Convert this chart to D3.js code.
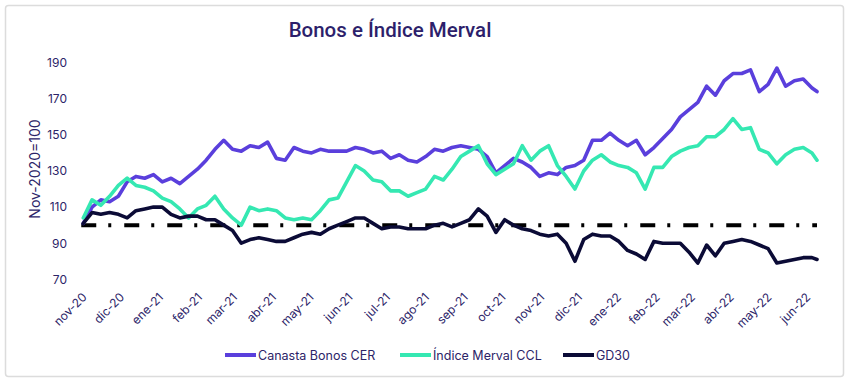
<!DOCTYPE html>
<html>
<head>
<meta charset="utf-8">
<script src="https://cdn.jsdelivr.net/npm/d3@7"></script>
<style>
  html, body { margin: 0; padding: 0; background: #ffffff; }
  svg { display: block; }
</style>
</head>
<body>
<svg id="chart" width="850" height="382"></svg>
<script>
const dates = [
  "2020-11-02","2020-11-09","2020-11-16","2020-11-23","2020-11-30","2020-12-07","2020-12-14","2020-12-21","2020-12-28",
  "2021-01-04","2021-01-11","2021-01-18","2021-01-25","2021-02-01","2021-02-08","2021-02-15","2021-02-22",
  "2021-03-01","2021-03-08","2021-03-15","2021-03-22","2021-03-29","2021-04-05","2021-04-12","2021-04-19","2021-04-26",
  "2021-05-03","2021-05-10","2021-05-17","2021-05-24","2021-05-31","2021-06-07","2021-06-14","2021-06-21","2021-06-28",
  "2021-07-05","2021-07-12","2021-07-19","2021-07-26","2021-08-02","2021-08-09","2021-08-16","2021-08-23","2021-08-30",
  "2021-09-06","2021-09-13","2021-09-20","2021-09-27","2021-10-04","2021-10-11","2021-10-18","2021-10-25",
  "2021-11-01","2021-11-08","2021-11-15","2021-11-22","2021-11-29","2021-12-06","2021-12-13","2021-12-20","2021-12-27",
  "2022-01-03","2022-01-10","2022-01-17","2022-01-24","2022-01-31","2022-02-07","2022-02-14","2022-02-21","2022-02-28",
  "2022-03-07","2022-03-14","2022-03-21","2022-03-28","2022-04-04","2022-04-11","2022-04-18","2022-04-25",
  "2022-05-02","2022-05-09","2022-05-16","2022-05-23","2022-05-30","2022-06-06","2022-06-10"
];

const canastaCER = [
  101,110,114,113,116,124,127,126,128,
  124,126,123,127,131,136,142,147,
  142,141,144,143,146,137,136,143,141,
  140,142,141,141,141,143,142,140,141,
  137,139,136,135,138,142,141,143,144,
  143,142,138,129,133,137,135,132,
  127,129,128,132,133,136,147,147,151,
  147,144,147,139,143,148,153,160,164,
  168,177,172,180,184,184,186,174,
  178,187,177,180,181,176,174
];

const mervalCCL = [
  104,114,111,116,122,126,122,121,119,
  115,113,109,104,109,111,116,109,
  104,100,110,108,109,108,104,103,104,
  103,108,114,115,124,133,130,125,124,
  119,119,116,118,120,127,125,131,138,
  141,144,134,128,131,134,144,136,
  141,144,133,127,120,130,136,139,135,
  133,132,129,120,132,132,138,141,143,
  144,149,149,153,159,153,154,142,
  140,134,139,142,143,140,136
];

const gd30 = [
  101,107,106,107,106,104,108,109,110,
  110,106,104,105,105,103,103,100,
  97,90,92,93,92,91,91,93,95,
  96,95,98,100,102,104,104,101,98,
  99,99,98,98,98,100,101,99,101,
  103,109,105,96,103,100,98,97,
  95,94,95,90,80,92,95,94,94,
  91,86,84,81,91,90,90,90,85,
  79,89,83,90,91,92,91,89,
  87,79,80,81,82,82,81
];

const seriesNames = ["Canasta Bonos CER", "Índice Merval CCL", "GD30"];
const seriesColors = ["#5a3fdc", "#35e8b2", "#0b0b36"];
const yTicks = [70, 90, 110, 130, 150, 170, 190];
const monthLabels = ["nov-20","dic-20","ene-21","feb-21","mar-21","abr-21","may-21","jun-21","jul-21","ago-21",
  "sep-21","oct-21","nov-21","dic-21","ene-22","feb-22","mar-22","abr-22","may-22","jun-22"];
const baseLevel = 100;
const titleText = "Bonos e Índice Merval";
const yTitle = "Nov-2020=100";

const parse = d3.timeParse("%Y-%m-%d");
const dateObjs = dates.map(parse);
const monthDates = d3.timeMonths(new Date(2020, 10, 1), new Date(2022, 5, 2));

const svg = d3.select("#chart");
const textColor = "#2c2468";
const font = "Inter, 'Noto Sans', sans-serif";

// border
svg.append("rect").attr("x", 5.5).attr("y", 5.5).attr("width", 838).attr("height", 371)
  .attr("rx", 3).attr("fill", "#fff").attr("stroke", "#dcdcdc").attr("stroke-width", 1.5);

const x = d3.scaleTime()
  .domain([new Date(2020, 10, 1), new Date(2022, 5, 10)])
  .range([82, 817]);
const y = d3.scaleLinear().domain([70, 190]).range([279.3, 62.7]);

// title
svg.append("text").attr("x", 390).attr("y", 37).attr("text-anchor", "middle")
  .attr("font-family", "Roboto, sans-serif").attr("font-size", 20.5).attr("font-weight", 500)
  .attr("fill", "#2d1f6b").text(titleText);

// y axis labels
const yAxis = d3.axisLeft(y).tickValues(yTicks).tickSize(0).tickPadding(0);
const gy = svg.append("g").attr("transform", "translate(67,0)").call(yAxis);
gy.select(".domain").remove();
gy.selectAll("text").attr("font-family", font).attr("font-size", 12).attr("fill", textColor);

// y title
svg.append("text").attr("transform", "translate(40,169) rotate(-90)").attr("text-anchor", "middle")
  .attr("font-family", font).attr("font-size", 14).attr("fill", textColor).text(yTitle);

// x axis labels
const xAxis = d3.axisBottom(x).tickValues(monthDates).tickSize(0).tickPadding(0)
  .tickFormat((d, i) => monthLabels[i]);
const gx = svg.append("g").attr("transform", "translate(0,292)").call(xAxis);
gx.select(".domain").remove();
gx.selectAll("text")
  .attr("font-family", font).attr("font-size", 12).attr("fill", textColor)
  .attr("text-anchor", "end").attr("dy", 0)
  .attr("transform", "translate(5,6) rotate(-45)");

// base line
svg.append("line").attr("x1", x(dateObjs[0]) - 2).attr("x2", x(dateObjs[dateObjs.length - 1]))
  .attr("y1", y(baseLevel)).attr("y2", y(baseLevel))
  .attr("stroke", "#000").attr("stroke-width", 4).attr("stroke-dasharray", "15,12,3,13");

// series
const allSeries = [canastaCER, mervalCCL, gd30];
const line = d3.line().x((d, i) => x(dateObjs[i])).y(d => y(d)).curve(d3.curveLinear);
allSeries.forEach((vals, k) => {
  svg.append("path").datum(vals).attr("d", line)
    .attr("fill", "none").attr("stroke", seriesColors[k]).attr("stroke-width", 3.6)
    .attr("stroke-linejoin", "round").attr("stroke-linecap", "round");
});

// legend
const legendX = [225, 400, 563];
const legend = svg.append("g");
seriesNames.forEach((name, k) => {
  const g = legend.append("g").attr("transform", `translate(${legendX[k]},355)`);
  g.append("line").attr("x1", 0).attr("x2", 31).attr("y1", 0).attr("y2", 0)
    .attr("stroke", seriesColors[k]).attr("stroke-width", 4);
  g.append("text").attr("x", 33).attr("y", 4.5).attr("font-family", font).attr("font-size", 12.5)
    .attr("fill", textColor).text(name);
});
</script>
</body>
</html>
